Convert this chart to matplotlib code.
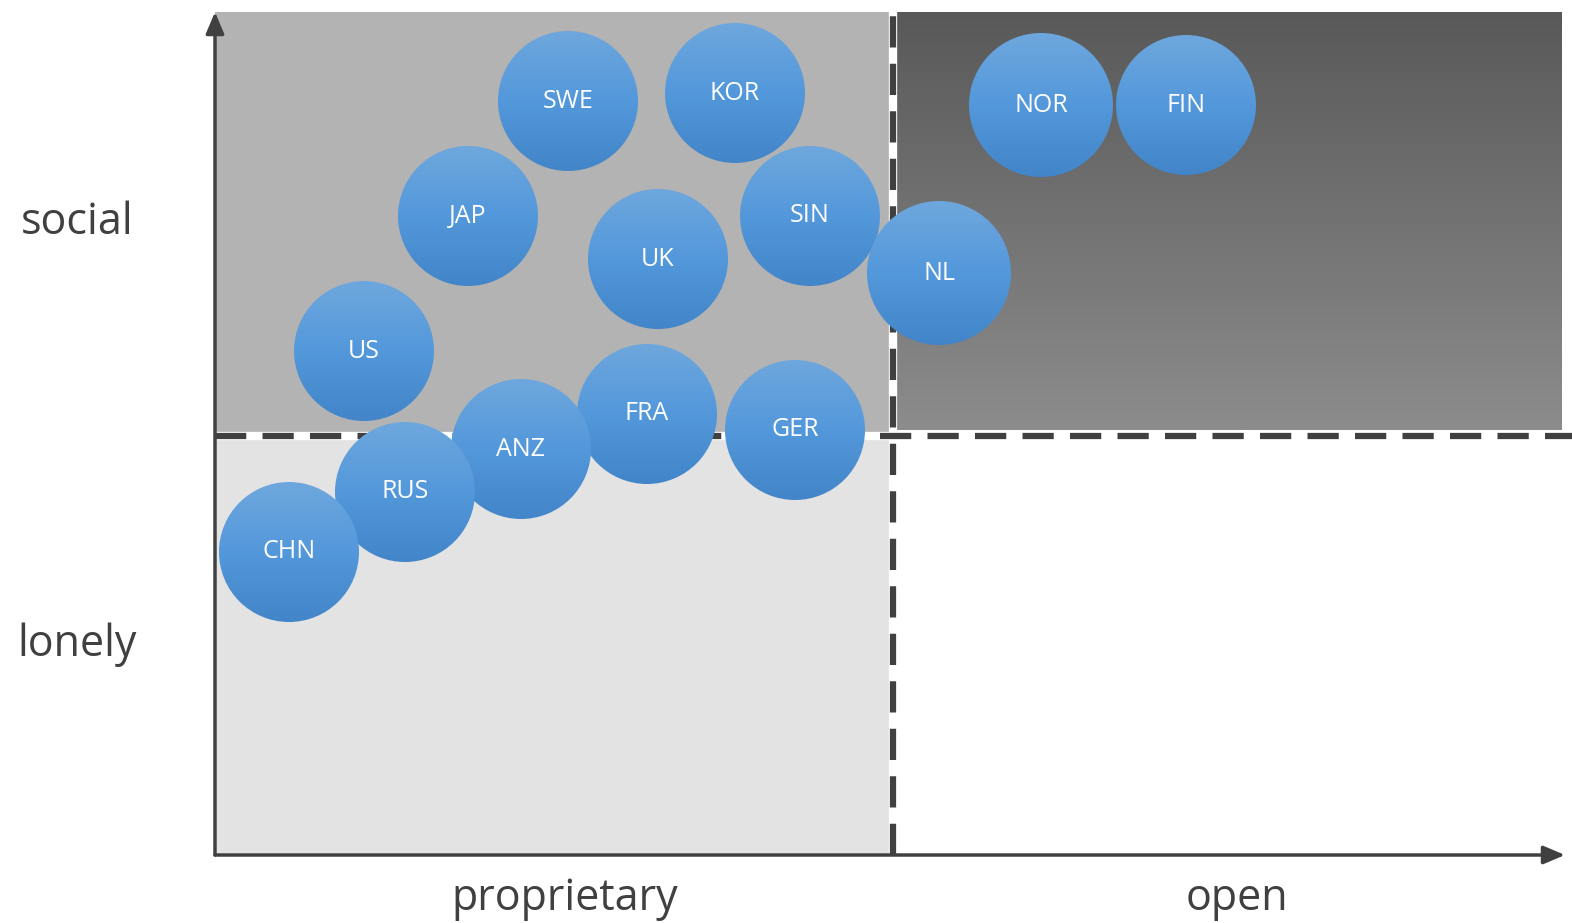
import numpy as np
import matplotlib.pyplot as plt
from matplotlib.patches import Circle, Rectangle
from matplotlib.colors import LinearSegmentedColormap

plt.rcParams['font.family'] = ['Open Sans', 'DejaVu Sans']

# Data (positions on the quadrant plane, origin at the axis corner)
countries = ['SWE', 'KOR', 'JAP', 'SIN', 'UK', 'NL', 'US', 'FRA', 'GER',
             'ANZ', 'RUS', 'CHN', 'NOR', 'FIN']
x_vals = [353, 520, 253, 595, 443, 724, 149, 432, 580, 306, 190, 74, 826, 971]
y_vals = [754, 762, 639, 639, 596, 582, 504, 441, 425, 406, 363, 303, 750, 750]
radius = [70, 70, 70, 70, 70, 72, 70, 70, 70, 70, 70, 70, 72, 70]

x_split = 678   # proprietary | open
y_split = 419   # lonely | social
x_max, y_max = 1350, 843

x_labels = ['proprietary', 'open']
y_labels = ['lonely', 'social']

fig = plt.figure(figsize=(15.72, 9.23), dpi=100)
ax = fig.add_axes([215 / 1572, 68 / 923, 1350 / 1572, 843 / 923])
ax.set_xlim(0, x_max)
ax.set_ylim(0, y_max)
ax.axis('off')

dark = '#404040'

# quadrant backgrounds
ax.add_patch(Rectangle((0, y_split), x_split - 3, y_max - y_split, color='#b3b3b3', zorder=0))
ax.add_patch(Rectangle((0, 0), x_split - 3, y_split - 3, color='#e3e3e3', zorder=0))
grad = np.linspace(0, 1, 256).reshape(-1, 1)
gray_cmap = LinearSegmentedColormap.from_list('tr', ['#8c8c8c', '#595959'])
ax.imshow(grad, cmap=gray_cmap, aspect='auto', origin='lower',
          extent=(x_split + 2, x_max - 3, y_split + 6, y_max), zorder=0)

# dashed dividers with white gaps
ax.plot([0, x_max + 10], [y_split, y_split], color='white', lw=6, zorder=1, clip_on=False)
ax.plot([x_split, x_split], [0, y_max], color='white', lw=6, zorder=1)
ax.plot([0, x_max + 10], [y_split, y_split], color=dark, lw=4.5, zorder=2,
        dashes=(5, 2.6), clip_on=False)
ax.plot([x_split, x_split], [0, y_max], color=dark, lw=4.5, zorder=2, dashes=(5, 2.6))

# axes with arrows
ax.annotate('', xy=(x_max, 0), xytext=(0, 0),
            arrowprops=dict(arrowstyle='-|>,head_length=1.3,head_width=0.55',
                            color=dark, lw=2.5, shrinkA=0, shrinkB=0),
            annotation_clip=False, zorder=3)
ax.annotate('', xy=(0, y_max), xytext=(0, 0),
            arrowprops=dict(arrowstyle='-|>,head_length=1.3,head_width=0.55',
                            color=dark, lw=2.5, shrinkA=0, shrinkB=0),
            annotation_clip=False, zorder=3)

# bubbles with vertical gradient
blue_cmap = LinearSegmentedColormap.from_list('bl', ['#4285c9', '#5398db', '#6ea7dd'])
for name, x, y, r in zip(countries, x_vals, y_vals, radius):
    circ = Circle((x, y), r, facecolor='none', edgecolor='none', zorder=4)
    ax.add_patch(circ)
    im = ax.imshow(grad, cmap=blue_cmap, aspect='auto', origin='lower',
                   extent=(x - r, x + r, y - r, y + r), zorder=4)
    im.set_clip_path(circ)
    ax.text(x, y, name, color='white', fontsize=18, ha='center', va='center', zorder=5)

# quadrant labels
for lab, xc in zip(x_labels, [350, 1022]):
    ax.text(xc, -44, lab, color=dark, fontsize=31, ha='center', va='center', clip_on=False)
for lab, yc in zip(y_labels, [210, 632]):
    ax.text(-138, yc, lab, color=dark, fontsize=31, ha='center', va='center', clip_on=False)

ax.set_xlim(0, x_max)
ax.set_ylim(0, y_max)

fig.savefig('out.png', dpi=100)
